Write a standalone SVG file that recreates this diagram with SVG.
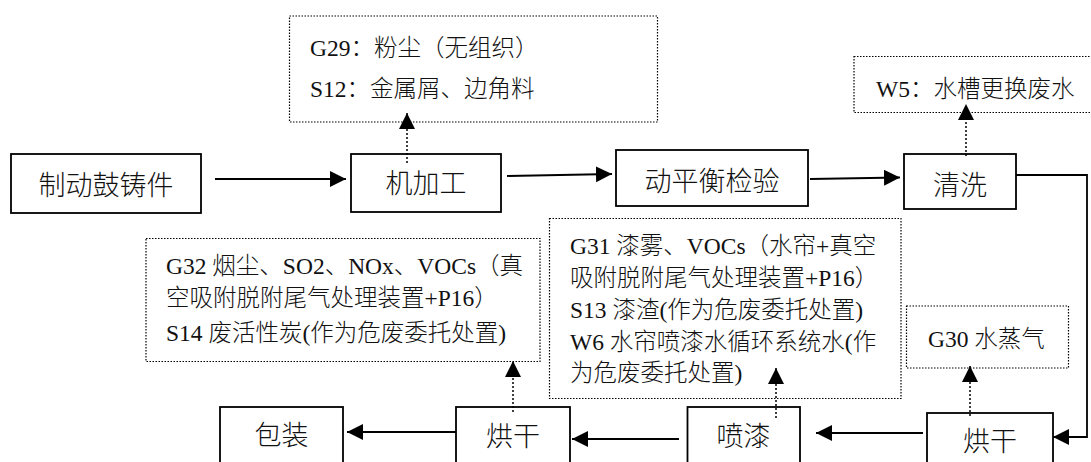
<svg xmlns="http://www.w3.org/2000/svg" width="1091" height="462" viewBox="0 0 1091 462">
<style>
.box{fill:#fff;stroke:#000;stroke-width:1.8}
.note{fill:none;stroke:#000;stroke-width:1.2;stroke-dasharray:1.5 1.5}
.lbl{font-family:"Liberation Serif","Noto Sans CJK SC",serif;font-size:27px;font-weight:300;fill:#111;text-anchor:middle}
.nt{font-family:"Liberation Serif","Noto Sans CJK SC",serif;font-size:23.5px;font-weight:300;fill:#111}
.ln{fill:none;stroke:#000;stroke-width:1.8}
.dl{fill:none;stroke:#000;stroke-width:1.5;stroke-dasharray:2 2}
</style>
<defs>
<marker id="ah" markerUnits="userSpaceOnUse" markerWidth="17" markerHeight="17" refX="16" refY="8" orient="auto" viewBox="0 0 17 17">
<path d="M0,0 L16,8 L0,16 z" fill="#000"/>
</marker>
</defs>
<rect width="1091" height="462" fill="#fff"/>

<g id="n-g29">
<rect class="note" x="289.5" y="16" width="368" height="106"/>
<text class="nt" x="310" y="56">G29：粉尘（无组织）</text>
<text class="nt" x="310" y="97">S12：金属屑、边角料</text>
</g>
<g id="n-w5">
<rect class="note" x="854" y="56.5" width="240" height="56"/>
<text class="nt" x="876" y="97">W5：水槽更换废水</text>
</g>
<g id="n-g32">
<rect class="note" x="146" y="238.5" width="394" height="123"/>
<text class="nt" x="166" y="274">G32 烟尘、SO2、NOx、VOCs（真</text>
<text class="nt" x="166" y="306">空吸附脱附尾气处理装置+P16）</text>
<text class="nt" x="166" y="341">S14 废活性炭(作为危废委托处置)</text>
</g>
<g id="n-g31">
<rect class="note" x="549.5" y="218.5" width="351.5" height="180"/>
<text class="nt" x="570" y="254">G31 漆雾、VOCs（水帘+真空</text>
<text class="nt" x="570" y="286">吸附脱附尾气处理装置+P16）</text>
<text class="nt" x="570" y="318">S13 漆渣(作为危废委托处置)</text>
<text class="nt" x="570" y="350">W6 水帘喷漆水循环系统水(作</text>
<text class="nt" x="570" y="381">为危废委托处置)</text>
</g>
<g id="n-g30">
<rect class="note" x="906.5" y="306" width="162" height="62"/>
<text class="nt" x="928" y="347">G30 水蒸气</text>
</g>

<g id="b-zhidong">
<rect class="box" x="11" y="154" width="190" height="59"/>
<text class="lbl" x="106" y="195">制动鼓铸件</text>
</g>
<g id="b-jijiagong">
<rect class="box" x="351" y="154" width="150" height="58"/>
<text class="lbl" x="426" y="193">机加工</text>
</g>
<g id="b-dongpingheng">
<rect class="box" x="616" y="150" width="192" height="56"/>
<text class="lbl" x="712" y="191">动平衡检验</text>
</g>
<g id="b-qingxi">
<rect class="box" x="904" y="154" width="112" height="55"/>
<text class="lbl" x="960" y="195">清洗</text>
</g>
<g id="b-baozhuang">
<rect class="box" x="220" y="407" width="123" height="70"/>
<text class="lbl" x="281.5" y="445">包装</text>
</g>
<g id="b-honggan1">
<rect class="box" x="456" y="407" width="114" height="70"/>
<text class="lbl" x="513" y="446">烘干</text>
</g>
<g id="b-penqi">
<rect class="box" x="687.5" y="407" width="112.5" height="70"/>
<text class="lbl" x="743.5" y="446">喷漆</text>
</g>
<g id="b-honggan2">
<rect class="box" x="927" y="413" width="126" height="70"/>
<text class="lbl" x="990" y="451">烘干</text>
</g>

<g id="connectors">
<line class="ln" x1="215" y1="179" x2="346" y2="179" marker-end="url(#ah)"/>
<line class="ln" x1="507" y1="176" x2="612" y2="174" marker-end="url(#ah)"/>
<line class="ln" x1="810" y1="179" x2="900" y2="177.5" marker-end="url(#ah)"/>
<polyline class="ln" points="1016,175 1087,175 1087,437 1053,437" marker-end="url(#ah)"/>
<line class="ln" x1="923" y1="433" x2="816" y2="433" marker-end="url(#ah)"/>
<line class="ln" x1="679" y1="439" x2="572" y2="439" marker-end="url(#ah)"/>
<line class="ln" x1="456" y1="432" x2="347" y2="432" marker-end="url(#ah)"/>
<line class="dl" x1="407" y1="163" x2="407" y2="113" marker-end="url(#ah)"/>
<line class="dl" x1="966" y1="156" x2="966" y2="104" marker-end="url(#ah)"/>
<line class="dl" x1="513" y1="412" x2="513" y2="361" marker-end="url(#ah)"/>
<line class="dl" x1="776" y1="418" x2="776" y2="368" marker-end="url(#ah)"/>
<line class="dl" x1="970" y1="416" x2="970" y2="366" marker-end="url(#ah)"/>
</g>
</svg>
